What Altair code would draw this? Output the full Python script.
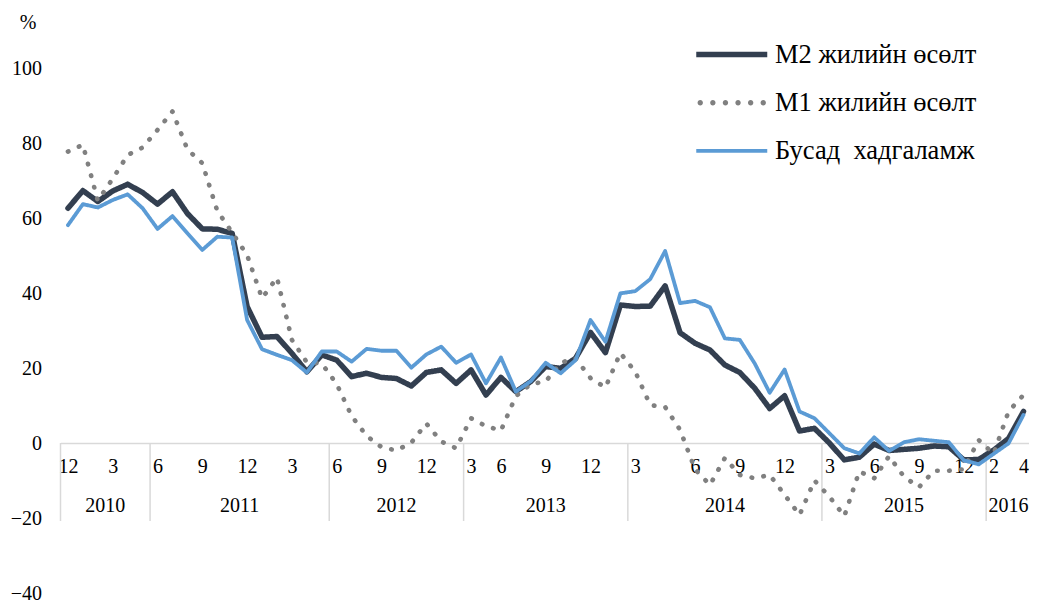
import json
import altair as alt
import pandas as pd

# month index 0..64 (category positions along the axis)
m2 = [62.6, 67.3, 64.4, 67.2, 69.0, 66.8, 63.7, 67.0, 61.2, 57.1, 57.0, 55.9,
      36.4, 28.2, 28.4, 23.9, 19.0, 23.5, 22.1, 17.7, 18.6, 17.5, 17.2, 15.2,
      18.8, 19.5, 15.9, 19.5, 12.8, 17.5, 13.7, 16.4, 20.4, 19.9, 22.6, 29.5,
      24.1, 36.8, 36.4, 36.5, 41.9, 29.4, 26.6, 24.8, 20.8, 18.8, 14.6, 9.2,
      12.6, 3.2, 3.9, 0.0, -4.5, -3.8, -0.3, -2.0, -1.7, -1.4, -0.8, -1.0,
      -4.5, -4.4, -1.9, 1.2, 8.4]
m1 = [77.7, 79.5, 64.6, 70.5, 76.8, 78.8, 83.5, 88.4, 78.3, 74.6, 61.9, 56.1,
      50.1, 38.6, 44.1, 27.5, 21.5, 21.2, 15.7, 7.2, 1.9, -1.1, -2.0, 0.1,
      5.2, 0.4, -1.4, 6.6, 4.5, 3.3, 12.5, 15.7, 16.4, 21.4, 22.6, 17.3,
      14.8, 24.0, 19.0, 10.1, 9.6, 3.5, -7.0, -11.2, -4.0, -8.5, -9.4, -8.5,
      -13.8, -19.2, -10.0, -14.3, -19.5, -7.6, -9.4, -3.5, -9.0, -11.8, -7.4, -7.4,
      -7.0, 0.8, -2.9, 8.4, 12.8]
busad = [58.1, 63.7, 62.8, 64.8, 66.3, 62.6, 57.1, 60.5, 55.9, 51.5, 55.0, 54.8,
         32.8, 25.0, 23.5, 22.1, 18.8, 24.4, 24.4, 21.7, 25.1, 24.6, 24.6, 20.1,
         23.6, 25.7, 21.4, 23.6, 15.9, 22.8, 13.7, 16.5, 21.4, 18.6, 22.1, 32.8,
         27.0, 39.9, 40.5, 43.7, 51.2, 37.3, 37.9, 36.2, 27.9, 27.5, 21.2, 13.4,
         19.6, 8.4, 6.6, 2.6, -1.4, -2.8, 1.5, -2.1, 0.2, 1.0, 0.6, 0.2,
         -4.6, -5.7, -2.9, -0.1, 7.5]

series_names = ["M2 жилийн өсөлт", "M1 жилийн өсөлт", "Бусад\u00a0 хадгаламж"]
series_colors = ["#333F50", "#808080", "#5B9BD5"]
series_widths = [5.5, 5.5, 3.8]
series_dash = [[1, 0], [0.5, 11.5], [1, 0]]

month_pos = [0, 3, 6, 9, 12, 15, 18, 21, 24, 27, 29, 32, 35, 38, 42, 45, 48,
             51, 54, 57, 60, 62, 64]
month_txt = ["12", "3", "6", "9", "12", "3", "6", "9", "12", "3", "6", "9", "12",
             "3", "6", "9", "12", "3", "6", "9", "12", "2", "4"]

year_names = ["2010", "2011", "2012", "2013", "2014", "2015", "2016"]
year_bounds = [-0.5, 5.5, 17.5, 26.5, 37.5, 50.5, 61.5, 64.5]

FONT = "Liberation Serif"


# legend symbol shapes (unit coordinates, scaled by sqrt(symbolSize)/2)
def bar_path(half_h):
    return f"M-3.55,{-half_h}H3.55V{half_h}H-3.55Z"


def dots_path(r=0.27, centers=(-3.15, -1.89, -0.63, 0.63, 1.89, 3.15)):
    return "".join(
        f"M{c - r:.3f},0A{r},{r} 0 1,0 {c + r:.3f},0A{r},{r} 0 1,0 {c - r:.3f},0Z"
        for c in centers)


legend_shapes = [bar_path(0.28), dots_path(), bar_path(0.19)]

rows = []
for name, vals in zip(series_names, [m2, m1, busad]):
    for i, v in enumerate(vals):
        rows.append({"i": i, "v": v, "s": name})
df = pd.DataFrame(rows)

lab_arr = [""] * len(m2)
for p, t in zip(month_pos, month_txt):
    lab_arr[p] = t
label_expr = json.dumps(lab_arr, ensure_ascii=False) + "[datum.value]"

xscale = alt.Scale(domain=[-0.5, 64.37], nice=False, zero=False)
yscale = alt.Scale(domain=[-40, 100], nice=False, zero=False)

# the line scales list the series in reverse so that their (hidden) legends
# are not merged with the legend of the symbol layer below
rev_names = series_names[::-1]

lines = alt.Chart(df).mark_line(strokeCap="round", strokeJoin="round").encode(
    x=alt.X("i:Q", scale=xscale,
            axis=alt.Axis(values=month_pos, labelExpr=label_expr, title=None,
                          orient="bottom", offset=-150, ticks=False, grid=False,
                          domainColor="#D9D9D9", domainWidth=1.5,
                          labelFont=FONT, labelFontSize=20, labelColor="#000000",
                          labelPadding=13, labelAngle=0, labelFlush=False,
                          labelOverlap=False)),
    y=alt.Y("v:Q", scale=yscale,
            axis=alt.Axis(values=list(range(-40, 101, 20)), ticks=False, grid=False,
                          domain=False, labelFont=FONT, labelFontSize=20,
                          labelColor="#000000", labelPadding=19,
                          title="%", titleAngle=0, titleAlign="center",
                          titleBaseline="middle", titleX=-33, titleY=-46,
                          titleFont=FONT, titleFontSize=20, titleFontWeight="normal",
                          titleColor="#000000")),
    color=alt.Color("s:N", scale=alt.Scale(domain=rev_names, range=series_colors[::-1]),
                    legend=None),
    strokeWidth=alt.StrokeWidth("s:N", scale=alt.Scale(domain=rev_names, range=series_widths[::-1]),
                                legend=None),
    strokeDash=alt.StrokeDash("s:N", scale=alt.Scale(domain=rev_names, range=series_dash[::-1]),
                              legend=None),
    order=alt.Order("i:Q"),
)

# legend carrier: one point per series placed outside the domain and clipped
leg_df = pd.DataFrame({"s": series_names, "i": [-100] * 3, "v": [0] * 3})
legend_layer = alt.Chart(leg_df).mark_point(filled=True, clip=True, opacity=1).encode(
    x=alt.X("i:Q", scale=xscale),
    y=alt.Y("v:Q", scale=yscale),
    fill=alt.Fill("s:N", scale=alt.Scale(domain=series_names, range=series_colors),
                  legend=alt.Legend(title=None, orient="none", legendX=658, legendY=-26.7,
                                    labelFont=FONT, labelFontSize=26.5,
                                    labelColor="#000000", symbolSize=400,
                                    symbolStrokeWidth=0, symbolOpacity=1,
                                    rowPadding=21.2, labelOffset=30,
                                    labelLimit=400)),
    shape=alt.Shape("s:N", scale=alt.Scale(domain=series_names, range=legend_shapes)),
)

div_df = pd.DataFrame({"b": year_bounds[:-1]})
dividers = alt.Chart(div_df).mark_rule(color="#D9D9D9", strokeWidth=1.5).encode(
    x=alt.X("b:Q", scale=xscale),
    y=alt.datum(0),
    y2=alt.datum(-20.8),
)

yr_df = pd.DataFrame({
    "yr": year_names,
    "c": [(year_bounds[k] + year_bounds[k + 1]) / 2 for k in range(len(year_names))],
})
years = alt.Chart(yr_df).mark_text(font=FONT, fontSize=20, color="#000000",
                                   baseline="middle", align="center").encode(
    x=alt.X("c:Q", scale=xscale),
    y=alt.datum(-16.8),
    text="yr:N",
)

chart = alt.layer(dividers, years, lines, legend_layer).properties(
    width=968.5, height=525,
    padding={"left": 52.5, "top": 60, "right": 0, "bottom": 8},
    autosize=alt.AutoSizeParams(type="none"),
).configure(font=FONT).configure_view(stroke=None)

chart.save("out.html", embed_options={"renderer": "svg", "actions": False})
